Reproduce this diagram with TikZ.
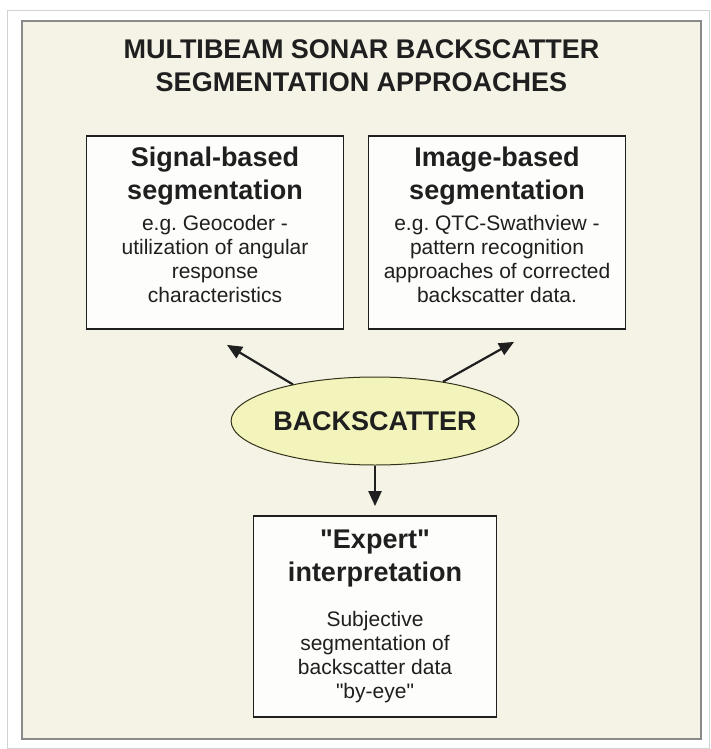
\documentclass[tikz,border=0pt]{standalone}
\usepackage{fontspec}
\setmainfont{Liberation Sans}[Ligatures=TeXOff]
\usetikzlibrary{positioning, shapes.geometric, arrows.meta}

\definecolor{paper}{HTML}{F4F3E6}
\definecolor{boxfill}{HTML}{FDFDFB}
\definecolor{eggfill}{HTML}{F3F4BC}
\definecolor{framegray}{HTML}{8A8A8A}
\definecolor{ink}{HTML}{1F1F1F}

\tikzset{
  frame/.style={draw=framegray, line width=2pt, fill=paper, inner sep=0pt},
  panel/.style={draw=ink, line width=1.8pt, fill=boxfill, inner sep=0pt,
    minimum width=257pt},
  egg/.style={ellipse, draw=ink!80!olive, line width=1pt, fill=eggfill,
    inner sep=0pt, minimum width=257pt, minimum height=88pt,
    font=\fontsize{27}{33}\selectfont\bfseries, text=ink},
  titletxt/.style={font=\fontsize{27}{33}\selectfont\bfseries, text=ink,
    align=center, inner sep=0pt},
  headtxt/.style={font=\fontsize{27}{33}\selectfont\bfseries, text=ink,
    align=center, inner sep=0pt},
  bodytxt/.style={font=\fontsize{21}{24}\selectfont, text=ink,
    align=center, inner sep=0pt},
  arr/.style={-{Triangle[length=15pt,width=13pt]}, line width=2.2pt, draw=ink}
}

\begin{document}
\begin{tikzpicture}[x=1pt, y=-1pt]
\useasboundingbox (0,0) rectangle (711,749);
\draw[gray!35, line width=0.8pt] (7,10) rectangle (709,748);
\node[frame, minimum width=679pt, minimum height=718pt] (frm) at (361.5,380) {};
\node[titletxt, below=19.7pt of frm.north] (ttl)
  {MULTIBEAM SONAR BACKSCATTER\\SEGMENTATION APPROACHES};

% the two upper boxes
\node[panel, minimum height=193pt] (sig) at (215,232.5) {};
\node[headtxt, below=12pt of sig.north] (sighead) {Signal-based\\segmentation};
\node[bodytxt, below=9pt of sighead] (sigbody)
  {e.g.\ Geocoder -\\utilization of angular\\response\\characteristics};

\node[panel, minimum height=193pt] (img) at (497,232.5) {};
\node[headtxt, below=12pt of img.north] (imghead) {Image-based\\segmentation};
\node[bodytxt, below=9pt of imghead] (imgbody)
  {e.g.\ QTC-Swathview -\\pattern recognition\\approaches of corrected\\backscatter data.};

% centre and lower box
\node[egg] (bs) at (375,421) {BACKSCATTER};

\node[panel, minimum width=243pt, minimum height=201pt] (exp) at (375,616.5) {};
\node[headtxt, below=14.5pt of exp.north] (exphead) {"Expert"\\interpretation};
\node[bodytxt, below=24pt of exphead] (expbody)
  {Subjective\\segmentation of\\backscatter data\\"by-eye"};

\coordinate (sigtip) at ([xshift=12pt,yshift=-15pt]sig.south);
\coordinate (imgtip) at ([xshift=17pt,yshift=-12pt]img.south);
\draw[arr] (bs.156) -- (sigtip);
\draw[arr] (bs.30) -- (imgtip);
\draw[arr, shorten >=9pt] (bs.south) -- (exp.north);
\end{tikzpicture}
\end{document}
